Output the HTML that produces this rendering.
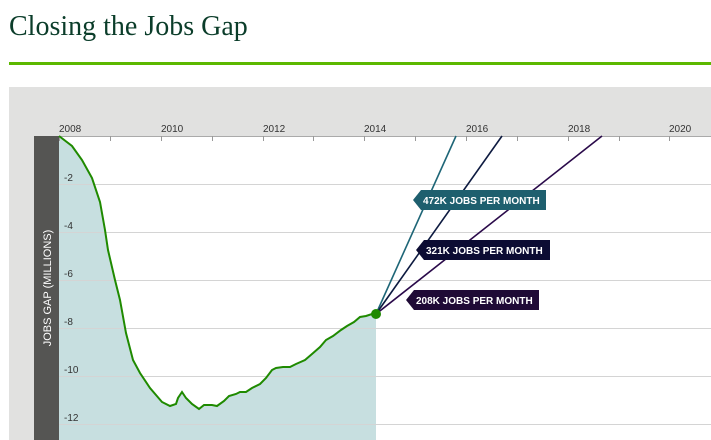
<!DOCTYPE html>
<html><head><meta charset="utf-8"><style>
body{margin:0;width:711px;height:440px;overflow:hidden;background:#fff;}
</style></head><body>
<svg width="711" height="440" xmlns="http://www.w3.org/2000/svg" style="position:absolute;left:0;top:0">
<text x="9" y="35" font-family="Liberation Serif, serif" font-size="28" fill="#0b3d2a">Closing the Jobs Gap</text>
<rect x="9" y="62" width="702" height="3" fill="#5cb800"/>
<rect x="9" y="87" width="702" height="353" fill="#e1e1e0"/>
<rect x="59" y="136" width="652" height="304" fill="#fff"/>
<rect x="34" y="136" width="25" height="304" fill="#555553"/>
<text transform="translate(51,288) rotate(-90)" text-anchor="middle" font-family="Liberation Sans, sans-serif" font-size="11" fill="#fff">JOBS GAP (MILLIONS)</text>
<polygon fill="#c7dfe0" points="59,136 72,146 82,160 92,178 100,202 105,230 108,250 115,280 120,300 126,333 133,360 140,373 150,388 156,395 162,402 170,406 176,404 178,398 182,392 186,398 192,404 199,409 204,405 212,405 217,406 224,401 229,396 236,394 240,392 246,392 252,388 260,384 266,378 272,370 276,368 283,367 290,367 296,364 305,360 312,354 320,347 326,340 333,336 341,330 347,326 354,322 360,317 366,316 372,314 376,314 376,440 59,440"/>
<g stroke="#d4d4d4" stroke-width="1">
<line x1="59" y1="184.5" x2="711" y2="184.5"/><line x1="59" y1="232.5" x2="711" y2="232.5"/><line x1="59" y1="280.5" x2="711" y2="280.5"/><line x1="59" y1="328.5" x2="711" y2="328.5"/><line x1="59" y1="376.5" x2="711" y2="376.5"/><line x1="59" y1="424.5" x2="711" y2="424.5"/>
</g>
<line x1="59" y1="136.5" x2="711" y2="136.5" stroke="#aaa"/>
<g stroke="#999">
<line x1="59.5" y1="136" x2="59.5" y2="141"/><line x1="110.5" y1="136" x2="110.5" y2="141"/><line x1="161.5" y1="136" x2="161.5" y2="141"/><line x1="212.5" y1="136" x2="212.5" y2="141"/><line x1="263.5" y1="136" x2="263.5" y2="141"/><line x1="313.5" y1="136" x2="313.5" y2="141"/><line x1="364.5" y1="136" x2="364.5" y2="141"/><line x1="415.5" y1="136" x2="415.5" y2="141"/><line x1="466.5" y1="136" x2="466.5" y2="141"/><line x1="517.5" y1="136" x2="517.5" y2="141"/><line x1="568.5" y1="136" x2="568.5" y2="141"/><line x1="619.5" y1="136" x2="619.5" y2="141"/><line x1="669.5" y1="136" x2="669.5" y2="141"/>
</g>
<g font-family="Liberation Sans, sans-serif" font-size="10" fill="#333">
<text x="59" y="132">2008</text><text x="161" y="132">2010</text><text x="263" y="132">2012</text><text x="364" y="132">2014</text><text x="466" y="132">2016</text><text x="568" y="132">2018</text><text x="669" y="132">2020</text>
<text x="64" y="181">-2</text><text x="64" y="229">-4</text><text x="64" y="277">-6</text><text x="64" y="325">-8</text><text x="64" y="373">-10</text><text x="64" y="421">-12</text>
</g>
<polyline fill="none" stroke="#1f8a00" stroke-width="2" points="59,136 72,146 82,160 92,178 100,202 105,230 108,250 115,280 120,300 126,333 133,360 140,373 150,388 156,395 162,402 170,406 176,404 178,398 182,392 186,398 192,404 199,409 204,405 212,405 217,406 224,401 229,396 236,394 240,392 246,392 252,388 260,384 266,378 272,370 276,368 283,367 290,367 296,364 305,360 312,354 320,347 326,340 333,336 341,330 347,326 354,322 360,317 366,316 372,314 376,314"/>
<line x1="376" y1="314" x2="456" y2="136" stroke="#1e6677" stroke-width="1.6"/>
<line x1="376" y1="314" x2="502" y2="136" stroke="#0d1a40" stroke-width="1.6"/>
<line x1="376" y1="314" x2="602" y2="136" stroke="#2a0a4a" stroke-width="1.6"/>
<circle cx="376" cy="314" r="5" fill="#1f8a00"/>
<polygon points="413,200 421,190 546,190 546,210 421,210" fill="#1e5f6e"/>
<polygon points="416,250 424,240 550,240 550,260 424,260" fill="#0c0c33"/>
<polygon points="406,300 414,290 539,290 539,310 414,310" fill="#1f0a36"/>
<g font-family="Liberation Sans, sans-serif" font-size="10" font-weight="bold" fill="#fff">
<text x="423" y="204">472K JOBS PER MONTH</text>
<text x="426" y="254">321K JOBS PER MONTH</text>
<text x="416" y="304">208K JOBS PER MONTH</text>
</g>
</svg>
</body></html>
